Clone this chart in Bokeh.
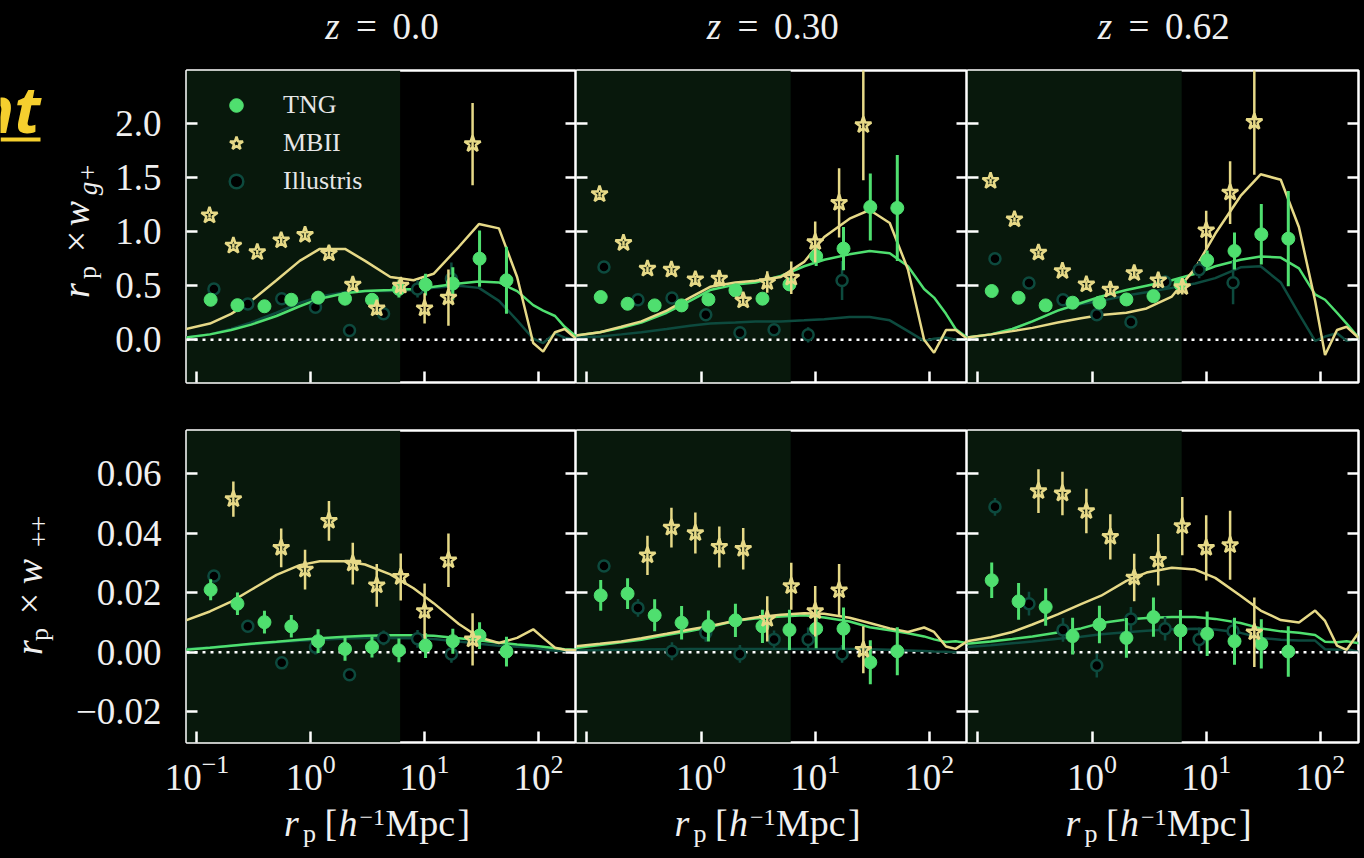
import numpy as np
from bokeh.plotting import figure
from bokeh.layouts import column, row
from bokeh.models import (Range1d, FixedTicker, LinearAxis, Label, Legend, LegendItem,
                          BoxAnnotation, Span, ColumnDataSource, GlobalInlineStyleSheet)
from bokeh.embed import file_html
from bokeh.resources import INLINE

NAN = float("nan")

# ------------------------------------------------------------------ data
redshift_labels = ["0.0", "0.30", "0.62"]
series_names = ["TNG", "MBII", "Illustris"]

xtick_values = [0.1, 1, 10, 100]
ytick_top = [0.0, 0.5, 1.0, 1.5, 2.0]
ytick_top_labels = ["0.0", "0.5", "1.0", "1.5", "2.0"]
ytick_bot = [-0.02, 0.0, 0.02, 0.04, 0.06]
ytick_bot_labels = ["\u22120.02", "0.00", "0.02", "0.04", "0.06"]

shade_rp_max = 6.1

rp_tng = [0.132, 0.227, 0.392, 0.675, 1.16, 2.00, 3.45, 5.95, 10.2, 17.7, 30.4, 52.4]
rp_mbii = [0.129, 0.209, 0.339, 0.550, 0.891, 1.445, 2.34, 3.80, 6.17, 10.0, 16.2, 26.4]
rp_ill = [0.141, 0.280, 0.556, 1.10, 2.19, 4.36, 8.67, 17.2]
rp_model = [0.08, 0.13, 0.2, 0.3, 0.5, 0.8, 1.2, 2, 3, 5, 8, 12, 20, 30, 45, 65, 90, 110, 140, 170, 220]

# r_p x w_g+  (top row)
wgp_tng_z000 = [0.37, 0.32, 0.31, 0.37, 0.39, 0.38, 0.37, 0.47, 0.51, 0.52, 0.75, 0.55]
wgp_tng_z000_err = [0.02, 0.02, 0.02, 0.02, 0.03, 0.03, 0.04, 0.08, 0.10, 0.15, 0.26, 0.31]
wgp_mbii_z000 = [1.15, 0.87, 0.81, 0.92, 0.97, 0.80, 0.51, 0.29, 0.50, 0.29, 0.39, 1.81]
wgp_mbii_z000_err = [0.02, 0.02, 0.02, 0.03, 0.03, 0.04, 0.05, 0.06, 0.08, 0.14, 0.26, 0.38]
wgp_ill_z000 = [0.47, 0.33, 0.38, 0.30, 0.086, 0.24, 0.47, 0.565]
wgp_ill_z000_err = [0.02, 0.02, 0.03, 0.03, 0.03, 0.05, 0.08, 0.15]

wgp_tng_z030 = [0.395, 0.333, 0.318, 0.318, 0.373, 0.457, 0.380, 0.512, 0.772, 0.843, 1.228, 1.219]
wgp_tng_z030_err = [0.02, 0.02, 0.02, 0.02, 0.03, 0.03, 0.04, 0.06, 0.09, 0.20, 0.31, 0.49]
wgp_mbii_z030 = [1.346, 0.895, 0.657, 0.648, 0.559, 0.565, 0.364, 0.534, 0.574, 0.904, 1.265, 1.985]
wgp_mbii_z030_err = [0.02, 0.02, 0.02, 0.03, 0.03, 0.04, 0.05, 0.10, 0.15, 0.19, 0.32, 0.51]
wgp_ill_z030 = [0.673, 0.370, 0.386, 0.231, 0.065, 0.093, 0.046, 0.549]
wgp_ill_z030_err = [0.02, 0.02, 0.02, 0.03, 0.03, 0.04, 0.07, 0.18]

wgp_tng_z062 = [0.451, 0.389, 0.318, 0.343, 0.343, 0.373, 0.404, 0.512, 0.735, 0.821, 0.975, 0.935]
wgp_tng_z062_err = [0.02, 0.02, 0.02, 0.02, 0.03, 0.03, 0.04, 0.06, 0.09, 0.17, 0.28, 0.44]
wgp_mbii_z062 = [1.469, 1.114, 0.806, 0.636, 0.512, 0.463, 0.617, 0.549, 0.488, 1.012, 1.361, 2.015]
wgp_mbii_z062_err = [0.02, 0.02, 0.02, 0.03, 0.03, 0.04, 0.05, 0.07, 0.07, 0.18, 0.29, 0.49]
wgp_ill_z062 = [0.750, 0.525, 0.370, 0.231, 0.164, 0.534, 0.648, 0.528]
wgp_ill_z062_err = [0.02, 0.02, 0.02, 0.03, 0.03, 0.06, 0.08, 0.20]

# r_p x w_++  (bottom row)
wpp_tng_z000 = [0.0210, 0.0163, 0.0101, 0.0087, 0.0037, 0.0011, 0.0017, 0.0006, 0.0022, 0.0037, 0.0056, 0.0002]
wpp_tng_z000_err = [0.0035, 0.0038, 0.0038, 0.0038, 0.0040, 0.0040, 0.0035, 0.0040, 0.0042, 0.0042, 0.0045, 0.0050]
wpp_mbii_z000 = [NAN, 0.0515, NAN, 0.0351, 0.0278, 0.0442, 0.0298, 0.0225, 0.0253, 0.0138, 0.0309, 0.0043]
wpp_mbii_z000_err = [NAN, 0.0059, NAN, 0.0065, 0.0067, 0.0067, 0.0070, 0.0072, 0.0079, 0.0093, 0.0090, 0.0088]
wpp_ill_z000 = [0.0256, 0.0087, -0.0036, 0.0017, -0.0076, 0.0048, 0.0045, -0.0006]
wpp_ill_z000_err = [0.0015, 0.0018, 0.0020, 0.0025, 0.0020, 0.0025, 0.0030, 0.0030]

wpp_tng_z030 = [0.0191, 0.0197, 0.0124, 0.0099, 0.0088, 0.0107, 0.0087, 0.0075, 0.0079, 0.0079, -0.0034, 0.0003]
wpp_tng_z030_err = [0.0052, 0.0052, 0.0054, 0.0056, 0.0052, 0.0056, 0.0056, 0.0068, 0.0066, 0.0071, 0.0074, 0.0081]
wpp_mbii_z030 = [NAN, NAN, 0.0326, 0.0419, 0.0401, 0.0354, 0.0348, 0.0112, 0.0222, 0.0138, 0.0208, 0.0008]
wpp_mbii_z030_err = [NAN, NAN, 0.0066, 0.0067, 0.0069, 0.0069, 0.0070, 0.0076, 0.0079, 0.0085, 0.0089, 0.0079]
wpp_ill_z030 = [0.0290, 0.0149, 0.0003, 0.0065, -0.0006, 0.0043, 0.0043, -0.0006]
wpp_ill_z030_err = [0.0020, 0.0030, 0.0030, 0.0030, 0.0030, 0.0030, 0.0040, 0.0030]

wpp_tng_z062 = [0.0242, 0.0171, 0.0152, 0.0054, 0.0093, 0.0048, 0.0118, 0.0073, 0.0062, 0.0037, 0.0028, 0.0002]
wpp_tng_z062_err = [0.0060, 0.0062, 0.0063, 0.0062, 0.0063, 0.0067, 0.0066, 0.0069, 0.0075, 0.0079, 0.0083, 0.0085]
wpp_mbii_z062 = [NAN, NAN, 0.0542, 0.0534, 0.0475, 0.0388, 0.0251, 0.0311, 0.0424, 0.0351, 0.0360, 0.0067]
wpp_mbii_z062_err = [NAN, NAN, 0.0074, 0.0073, 0.0075, 0.0076, 0.0080, 0.0087, 0.0098, 0.0110, 0.0116, 0.0117]
wpp_ill_z062 = [0.0489, 0.0163, 0.0075, -0.0045, 0.0112, 0.0079, 0.0043, 0.0071]
wpp_ill_z062_err = [0.0030, 0.0040, 0.0040, 0.0040, 0.0040, 0.0040, 0.0040, 0.0040]

# model curves on rp_model
mod_wgp_tng_z000 = [0.02, 0.05, 0.09, 0.14, 0.22, 0.31, 0.38, 0.43, 0.45, 0.46, 0.47, 0.49, 0.52, 0.54, 0.53, 0.45, 0.32, 0.27, 0.22, 0.12, 0.02]
mod_wgp_mbii_z000 = [0.10, 0.15, 0.24, 0.36, 0.55, 0.73, 0.84, 0.84, 0.73, 0.58, 0.55, 0.61, 0.86, 1.07, 1.03, 0.58, -0.03, -0.11, 0.07, 0.10, 0.0]
mod_wgp_ill_z000 = [0.02, 0.05, 0.10, 0.16, 0.25, 0.34, 0.40, 0.44, 0.45, 0.45, 0.46, 0.48, 0.50, 0.48, 0.36, 0.18, 0.01, -0.03, 0.06, 0.02, 0.0]

mod_wgp_tng_z030 = [0.04, 0.07, 0.11, 0.16, 0.25, 0.36, 0.46, 0.51, 0.53, 0.59, 0.68, 0.74, 0.79, 0.82, 0.80, 0.68, 0.47, 0.39, 0.24, 0.10, 0.01]
mod_wgp_mbii_z030 = [0.04, 0.07, 0.12, 0.17, 0.27, 0.39, 0.49, 0.53, 0.545, 0.58, 0.72, 0.95, 1.12, 1.20, 1.08, 0.65, 0.0, -0.12, 0.09, 0.09, 0.0]
mod_wgp_ill_z030 = [0.02, 0.03, 0.05, 0.07, 0.10, 0.13, 0.15, 0.16, 0.17, 0.17, 0.18, 0.19, 0.21, 0.21, 0.18, 0.08, -0.01, 0.01, 0.02, 0.0, 0.0]

mod_wgp_tng_z062 = [0.02, 0.05, 0.10, 0.17, 0.27, 0.34, 0.40, 0.46, 0.50, 0.55, 0.61, 0.68, 0.74, 0.77, 0.76, 0.66, 0.42, 0.37, 0.25, 0.15, 0.01]
mod_wgp_mbii_z062 = [0.02, 0.05, 0.08, 0.11, 0.16, 0.20, 0.23, 0.25, 0.29, 0.40, 0.66, 0.98, 1.33, 1.53, 1.48, 1.04, 0.36, -0.14, 0.09, 0.12, 0.01]
mod_wgp_ill_z062 = [0.02, 0.05, 0.10, 0.17, 0.27, 0.33, 0.36, 0.41, 0.44, 0.48, 0.52, 0.57, 0.67, 0.68, 0.53, 0.24, -0.01, 0.03, 0.06, -0.01, 0.01]

mod_wpp_tng_z000 = [0.0008, 0.0015, 0.0022, 0.0028, 0.0035, 0.0042, 0.0047, 0.0052, 0.0055, 0.0057, 0.0057, 0.0055, 0.0047, 0.0040, 0.0032, 0.0026, 0.0022, 0.0018, 0.0013, 0.0010, 0.0008]
mod_wpp_mbii_z000 = [0.0107, 0.0137, 0.0170, 0.0210, 0.0260, 0.0293, 0.0306, 0.0306, 0.0295, 0.0262, 0.0215, 0.0165, 0.0095, 0.0050, 0.0031, 0.0048, 0.0077, 0.0048, 0.0015, 0.0008, 0.0006]
mod_wpp_ill_z000 = [0.0011, 0.0016, 0.0022, 0.0027, 0.0033, 0.0038, 0.0042, 0.0046, 0.0048, 0.0048, 0.0047, 0.0044, 0.0036, 0.0028, 0.0022, 0.0018, 0.0016, 0.0010, 0.0005, 0.0004, 0.0003]

mod_wpp_tng_z030 = [0.0014, 0.0024, 0.0033, 0.0042, 0.0058, 0.0071, 0.0085, 0.0106, 0.0113, 0.0120, 0.0124, 0.0117, 0.0103, 0.0084, 0.0074, 0.0064, 0.0053, 0.0043, 0.0034, 0.0037, 0.0030]
mod_wpp_mbii_z030 = [0.0020, 0.0028, 0.0036, 0.0047, 0.0062, 0.0076, 0.0088, 0.0106, 0.0117, 0.0126, 0.0131, 0.0129, 0.0116, 0.0098, 0.0080, 0.0068, 0.0083, 0.0068, 0.0019, 0.0011, 0.0039]
mod_wpp_ill_z030 = [0.0006, 0.0007, 0.0008, 0.0009, 0.0010, 0.0011, 0.0011, 0.0011, 0.0011, 0.0011, 0.0011, 0.0011, 0.0011, 0.0010, 0.0008, 0.0006, 0.0004, 0.0002, 0.0001, 0.0, 0.0]

mod_wpp_tng_z062 = [0.0028, 0.0036, 0.0044, 0.0053, 0.0066, 0.0080, 0.0098, 0.0110, 0.0115, 0.0118, 0.0118, 0.0112, 0.0098, 0.0080, 0.0070, 0.0065, 0.0058, 0.0035, 0.0033, 0.0037, 0.0030]
mod_wpp_mbii_z062 = [0.0037, 0.0050, 0.0068, 0.0093, 0.0127, 0.0162, 0.0190, 0.0240, 0.0268, 0.0284, 0.0278, 0.0250, 0.0190, 0.0140, 0.0108, 0.0100, 0.0140, 0.0105, 0.0022, 0.0008, 0.0070]
mod_wpp_ill_z062 = [0.0017, 0.0023, 0.0030, 0.0036, 0.0045, 0.0052, 0.0060, 0.0067, 0.0072, 0.0077, 0.0079, 0.0076, 0.0065, 0.0048, 0.0042, 0.0039, 0.0039, 0.0010, 0.0008, 0.0011, 0.0]

# ------------------------------------------------------------------ style / layout
GREEN = "#4fdf6f"
YELLOW = "#e6d987"
TEAL = "#0d4a3e"
SHADE = "#08180c"
TXT = "#f0f0f0"
SERIF = "Liberation Serif"
SLIDE_YELLOW = "#f5cf2e"

XR = (0.081, 216)
YRANGES = [(-0.395, 2.49), (-0.0304, 0.0746)]

FRAME_L = [186, 576, 967]
FRAME_R = [576, 967, 1358]
ROW_FRAME = [(70, 382), (430, 742)]
FIG_W = [[470, 391, 394], [516, 391, 394]]
MBL = [[80, 0, 0], [126, 0, 0]]
MBR = [0, 0, 3]
MBT = [4, 30]
MBB = [18, 59]
FIG_H = [MBT[0] + 312 + MBB[0], MBT[1] + 312 + MBB[1]]

TOTAL_W = 1361
TITLE_H = 66            # page y 0..66
XLAB_TOP = 801
XLAB_H = 53             # page y 801..854
LT_W = 106
LB_W = 60
BASE_FIX = 0.33         # label text is centred on its anchor: move anchor to put the baseline where wanted


def put(fig, left, bottom, X, Y, text, size, style="normal", align="center",
        angle=0.0, color=TXT, font=SERIF, fix=BASE_FIX):
    if angle == 0.0:
        Y = Y - fix * size
    else:
        X = X - fix * size
    fig.add_layout(Label(x=X - left, y=bottom - Y, x_units="screen", y_units="screen", text=text,
                         text_font=font, text_font_size=f"{size}px", text_font_style=style,
                         text_align=align, text_baseline="alphabetic", angle=angle,
                         text_color=color))


def strip(width, height, yspan):
    s = figure(width=width, height=height, x_range=Range1d(0, width), y_range=Range1d(0, yspan),
               output_backend="svg", toolbar_location=None,
               x_axis_location=None, y_axis_location=None,
               min_border_left=0, min_border_right=0, min_border_top=0, min_border_bottom=0,
               background_fill_color="black", border_fill_color="black", outline_line_color=None)
    s.grid.visible = False
    return s


def style_axis(ax, show, ticks):
    ax.axis_line_color = None
    ax.major_tick_in = 11
    ax.major_tick_out = 0
    ax.major_tick_line_color = "white"
    ax.major_tick_line_width = 2.5
    ax.minor_tick_line_color = None
    ax.axis_label = None
    if show:
        ax.major_label_text_font = SERIF
        ax.major_label_text_font_size = "37px"
        ax.major_label_text_color = TXT
    else:
        ax.major_label_text_font_size = "1px"
        ax.major_label_text_color = "black"
        ax.major_label_standoff = 0
        ax.major_label_overrides = {v: "" for v in ticks}


def add_points(p, x, y, e, color, marker, size, fill, lw_err, lw_mark):
    x = np.array(x, dtype=float)
    y = np.array(y, dtype=float)
    e = np.array(e, dtype=float)
    src = ColumnDataSource(dict(x=x, y=y, lo=y - e, hi=y + e))
    p.segment("x", "lo", "x", "hi", source=src, line_color=color, line_width=lw_err)
    return p.scatter("x", "y", source=src, marker=marker, size=size, line_color=color,
                     fill_color=fill, line_width=lw_mark)


top_data = [
    (wgp_tng_z000, wgp_tng_z000_err, wgp_mbii_z000, wgp_mbii_z000_err, wgp_ill_z000, wgp_ill_z000_err,
     mod_wgp_tng_z000, mod_wgp_mbii_z000, mod_wgp_ill_z000),
    (wgp_tng_z030, wgp_tng_z030_err, wgp_mbii_z030, wgp_mbii_z030_err, wgp_ill_z030, wgp_ill_z030_err,
     mod_wgp_tng_z030, mod_wgp_mbii_z030, mod_wgp_ill_z030),
    (wgp_tng_z062, wgp_tng_z062_err, wgp_mbii_z062, wgp_mbii_z062_err, wgp_ill_z062, wgp_ill_z062_err,
     mod_wgp_tng_z062, mod_wgp_mbii_z062, mod_wgp_ill_z062),
]
bot_data = [
    (wpp_tng_z000, wpp_tng_z000_err, wpp_mbii_z000, wpp_mbii_z000_err, wpp_ill_z000, wpp_ill_z000_err,
     mod_wpp_tng_z000, mod_wpp_mbii_z000, mod_wpp_ill_z000),
    (wpp_tng_z030, wpp_tng_z030_err, wpp_mbii_z030, wpp_mbii_z030_err, wpp_ill_z030, wpp_ill_z030_err,
     mod_wpp_tng_z030, mod_wpp_mbii_z030, mod_wpp_ill_z030),
    (wpp_tng_z062, wpp_tng_z062_err, wpp_mbii_z062, wpp_mbii_z062_err, wpp_ill_z062, wpp_ill_z062_err,
     mod_wpp_tng_z062, mod_wpp_mbii_z062, mod_wpp_ill_z062),
]
yticks = [ytick_top, ytick_bot]
ylabels = [ytick_top_labels, ytick_bot_labels]


def make_panel(ci, ri):
    p = figure(width=FIG_W[ri][ci], height=FIG_H[ri], x_axis_type="log",
               x_range=Range1d(*XR), y_range=Range1d(*YRANGES[ri]),
               output_backend="svg", toolbar_location=None,
               min_border_left=MBL[ri][ci], min_border_right=MBR[ci],
               min_border_top=MBT[ri], min_border_bottom=MBB[ri],
               background_fill_color="black", border_fill_color="black",
               outline_line_color="white", outline_line_width=2.5)
    p.grid.visible = False
    p.add_layout(LinearAxis(), "right")

    below = p.below[0]
    left = p.left[0]
    right = p.right[0]
    below.ticker = FixedTicker(ticks=xtick_values)
    left.ticker = FixedTicker(ticks=yticks[ri])
    right.ticker = FixedTicker(ticks=yticks[ri])

    style_axis(below, ri == 1, xtick_values)
    style_axis(left, ci == 0, yticks[ri])
    style_axis(right, False, yticks[ri])
    if ci == 0:
        left.major_label_overrides = {v: s for v, s in zip(yticks[ri], ylabels[ri])}
        left.major_label_standoff = 25
    if ri == 1:
        below.major_label_standoff = 12
        if ci > 0:
            below.major_label_overrides = {xtick_values[0]: ""}

    p.add_layout(BoxAnnotation(right=shade_rp_max, fill_color=SHADE, fill_alpha=1.0,
                               line_color=None, level="underlay"))
    p.add_layout(Span(location=0, dimension="width", line_color="white", line_width=2.5,
                      line_dash="3 5", level="underlay"))

    d = (top_data if ri == 0 else bot_data)[ci]
    tng, tng_e, mb, mb_e, ill, ill_e, m_tng, m_mb, m_ill = d
    p.line(rp_model, m_ill, line_color=TEAL, line_width=2.5)
    p.line(rp_model, m_tng, line_color=GREEN, line_width=2.5)
    p.line(rp_model, m_mb, line_color=YELLOW, line_width=2.5)

    r_ill = add_points(p, rp_ill, ill, ill_e, TEAL, "circle", 11, "black", 2.5, 2.5)
    r_tng = add_points(p, rp_tng, tng, tng_e, GREEN, "circle", 13, GREEN, 3, 1)
    r_mb = add_points(p, rp_mbii, mb, mb_e, YELLOW, "star", 17, None, 2.5, 2.5)

    if ci == 0 and ri == 0:
        legend = Legend(items=[LegendItem(label=series_names[0], renderers=[r_tng]),
                               LegendItem(label=series_names[1], renderers=[r_mb]),
                               LegendItem(label=series_names[2], renderers=[r_ill])],
                        location=(33, 184), orientation="vertical",
                        background_fill_alpha=0.0, border_line_color=None,
                        label_text_font=SERIF, label_text_font_size="26px",
                        label_text_color="#e6e6e6", glyph_width=34, glyph_height=34,
                        label_height=34, spacing=4, padding=0, margin=0, label_standoff=30)
        p.add_layout(legend)
    return p


figs = [[make_panel(ci, ri) for ci in range(3)] for ri in range(2)]

# ---- column titles (z = ...)
title_strip = strip(TOTAL_W, TITLE_H, TITLE_H)
for ci in range(3):
    cx = (FRAME_L[ci] + FRAME_R[ci]) / 2
    num = redshift_labels[ci]
    numw = 46 if len(num) == 3 else 64
    start = cx - (68 + numw) / 2
    put(title_strip, 0, TITLE_H, start + 8, 38, "z", 37, style="italic")
    put(title_strip, 0, TITLE_H, start + 42, 38, "=", 37)
    put(title_strip, 0, TITLE_H, start + 68, 38, num, 37, align="left")

# ---- y-axis titles (the strips share the panel frames' top/bottom edges)
a = np.pi / 2
top_fb = ROW_FRAME[0][1]
bot_fb = ROW_FRAME[1][1]
frame_h = ROW_FRAME[0][1] - ROW_FRAME[0][0]

lt = strip(LT_W, FIG_H[0], frame_h)
put(lt, 0, top_fb, 88, 290, "r", 38, style="italic", angle=a)
put(lt, 0, top_fb, 96, 272, "p", 26, angle=a)
put(lt, 0, top_fb, 88, 241, "\u00d7", 38, angle=a)
put(lt, 0, top_fb, 88, 213, "w", 38, style="italic", angle=a)
put(lt, 0, top_fb, 96, 179, "g+", 27, style="italic", angle=a)
# fragment of the slide heading cut by the page edge (with its underline)
put(lt, 0, top_fb, 40, 133, "nt", 64, style="bold italic", align="right",
    color=SLIDE_YELLOW, font="Open Sans", fix=0.39)
lt.quad(left=[0], right=[40], bottom=[top_fb - 141], top=[top_fb - 137],
        fill_color=SLIDE_YELLOW, line_color=None)

lb = strip(LB_W, FIG_H[1], frame_h)
put(lb, 0, bot_fb, 41, 647, "r", 38, style="italic", angle=a)
put(lb, 0, bot_fb, 48, 634, "p", 26, angle=a)
put(lb, 0, bot_fb, 41, 603, "\u00d7", 38, angle=a)
put(lb, 0, bot_fb, 41, 571, "w", 38, style="italic", angle=a)
put(lb, 0, bot_fb, 48, 531, "++", 28, angle=a)

# ---- x-axis titles  r_p [h^-1 Mpc]
xl = strip(TOTAL_W, XLAB_H, XLAB_H)
xb = XLAB_TOP + XLAB_H
for ci in range(3):
    cx = (FRAME_L[ci] + FRAME_R[ci]) / 2
    put(xl, 0, xb, cx - 90, 835, "r", 38, style="italic")
    put(xl, 0, xb, cx - 72, 842, "p", 26)
    put(xl, 0, xb, cx - 57, 835, "[", 38, align="left")
    put(xl, 0, xb, cx - 43, 835, "h", 38, style="italic", align="left")
    put(xl, 0, xb, cx - 22, 825, "\u22121", 24, align="left")
    put(xl, 0, xb, cx + 4, 835, "Mpc", 38, align="left")
    put(xl, 0, xb, cx + 76, 835, "]", 38, align="left")

layout = column(title_strip,
                row(lt, *figs[0]),
                row(lb, *figs[1]),
                xl)
layout.stylesheets = [GlobalInlineStyleSheet(css="html, body { background: #000000; }")]

open("out.html", "w").write(file_html(layout, INLINE))
